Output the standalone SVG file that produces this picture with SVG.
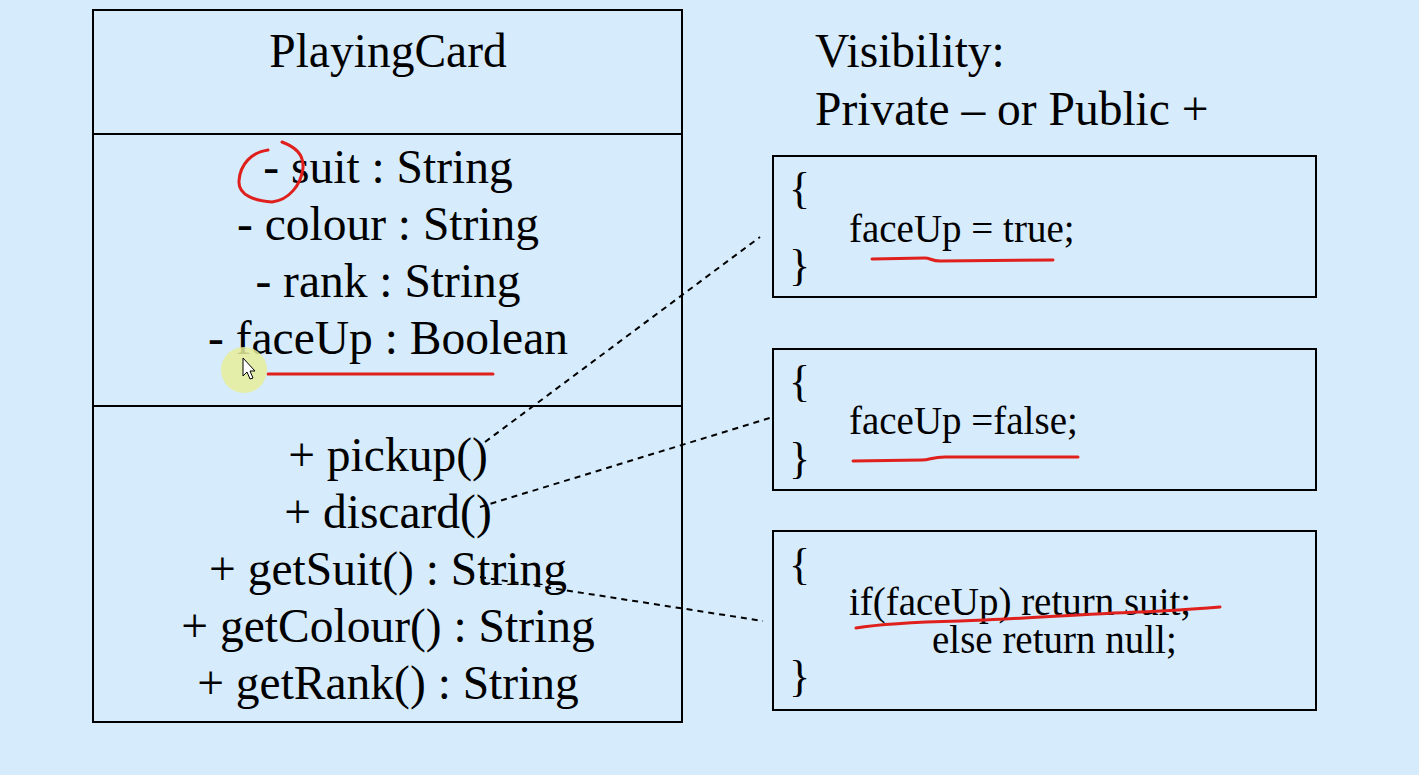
<svg xmlns="http://www.w3.org/2000/svg" width="1419" height="775" viewBox="0 0 1419 775">
<style>
.bg{fill:#D6EBFB}
.box{fill:none;stroke:#000;stroke-width:2}
.t{font-family:"Liberation Serif","Times New Roman",serif;font-size:47.5px;fill:#000}
.c{text-anchor:middle}
.code{font-family:"Liberation Serif","Times New Roman",serif;font-size:39px;fill:#000}
.br{font-family:"Liberation Serif","Times New Roman",serif;font-size:44px;fill:#000}
.dash{fill:none;stroke:#000;stroke-width:2;stroke-dasharray:6 5}
.ink{fill:none;stroke:#E0201C;stroke-width:3;stroke-linecap:round;stroke-linejoin:round}
</style>
<rect class="bg" x="0" y="0" width="1419" height="775"/>
<g id="PlayingCard">
<rect class="box" x="93" y="10" width="589" height="712"/>
<line class="box" x1="93" y1="134" x2="682" y2="134"/>
<line class="box" x1="93" y1="406" x2="682" y2="406"/>
<text class="t c" x="388" y="67">PlayingCard</text>
<text class="t c" x="388" y="183">- suit : String</text>
<text class="t c" x="388" y="240">- colour : String</text>
<text class="t c" x="388" y="297">- rank : String</text>
<text class="t c" x="388" y="354">- faceUp : Boolean</text>
<text class="t c" x="388" y="471">+ pickup()</text>
<text class="t c" x="388" y="528">+ discard()</text>
<text class="t c" x="388" y="585">+ getSuit() : String</text>
<text class="t c" x="388" y="642">+ getColour() : String</text>
<text class="t c" x="388" y="699">+ getRank() : String</text>
</g>
<g id="visibility">
<text class="t" x="815" y="67">Visibility:</text>
<text class="t" x="815" y="125">Private – or Public +</text>
</g>
<g id="pickupCode">
<rect class="box" x="773" y="156" width="543" height="141"/>
<text class="br" x="789" y="203">{</text>
<text class="code" x="849" y="242">faceUp = true;</text>
<text class="br" x="789" y="280">}</text>
</g>
<g id="discardCode">
<rect class="box" x="773" y="349" width="543" height="141"/>
<text class="br" x="789" y="396">{</text>
<text class="code" x="849" y="434">faceUp =false;</text>
<text class="br" x="789" y="473">}</text>
</g>
<g id="getSuitCode">
<rect class="box" x="773" y="531" width="543" height="179"/>
<text class="br" x="789" y="579">{</text>
<text class="code" x="849" y="615">if(faceUp) return suit;</text>
<text class="code" x="932" y="653">else return null;</text>
<text class="br" x="789" y="691">}</text>
</g>
<g id="connectors">
<line class="dash" x1="485" y1="442" x2="760" y2="237"/>
<line class="dash" x1="480" y1="507" x2="773" y2="417"/>
<line class="dash" x1="480" y1="577" x2="763" y2="621"/>
</g>
<g id="annotations">
<path class="ink" d="M268,150 C252,152 240,164 239,181 C238,195 255,201 272,202 C289,200 301,185 303,168 C304,154 295,147 282,142"/>
<path class="ink" d="M268,374 L493,374"/>
<path class="ink" d="M872,259 L925,258 C930,258 932,261 940,261 L1053,260"/>
<path class="ink" d="M853,461 L922,460 C930,460 932,457 945,457 L1078,457"/>
<path class="ink" d="M856,628 C880,624 920,622 960,621 C1020,619 1080,614 1140,612 C1170,611 1195,609 1220,607"/>
<circle cx="244" cy="370" r="23" fill="#E6EE9A" opacity="0.85"/>
<path d="M243,358 L243,376 L247,372 L250,379 L253,378 L250,371 L255,371 Z" fill="#fff" stroke="#000" stroke-width="1"/>
</g>
</svg>
